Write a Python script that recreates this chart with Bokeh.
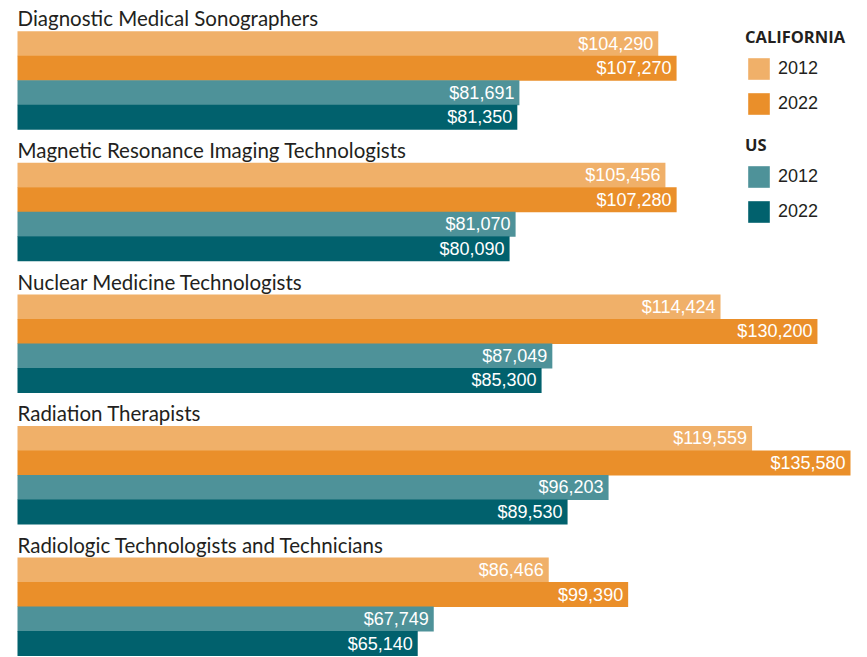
from bokeh.plotting import figure
from bokeh.models import ColumnDataSource, Range1d, Legend, LegendItem
from bokeh.core.properties import value
from bokeh.embed import file_html
from bokeh.resources import INLINE

categories = ["Diagnostic Medical Sonographers",
              "Magnetic Resonance Imaging Technologists",
              "Nuclear Medicine Technologists",
              "Radiation Therapists",
              "Radiologic Technologists and Technicians"]
ca_2012 = [104290, 105456, 114424, 119559, 86466]
ca_2022 = [107270, 107280, 130200, 135580, 99390]
us_2012 = [81691, 81070, 87049, 96203, 67749]
us_2022 = [81350, 80090, 85300, 89530, 65140]
series_labels = ["2012", "2022", "2012", "2022"]
colors = ["#F0B069", "#EA8F2A", "#4E9299", "#01616D"]

GROUP = 5.37  # group pitch in bar units
LABEL_FONT = "Liberation Sans"
TITLE_FONT = "Lato"

p = figure(width=867, height=657, output_backend="svg", toolbar_location=None,
           x_range=Range1d(-2767, 138346), y_range=Range1d(25.05, -1.765),
           x_axis_location=None, y_axis_location=None, min_border=0)
p.xgrid.visible = False
p.ygrid.visible = False
p.outline_line_color = None

renderers = []
for j, vals in enumerate([ca_2012, ca_2022, us_2012, us_2022]):
    ys = [i * GROUP + j for i in range(len(categories))]
    src = ColumnDataSource(dict(y=ys, v=vals, lab=["$" + f"{v:,}" for v in vals]))
    r = p.hbar(y="y", left=0, right="v", height=1.02, source=src,
               fill_color=colors[j], line_color=None)
    renderers.append(r)
    p.text(x="v", y="y", text="lab", source=src, text_align="right",
           text_baseline="middle", x_offset=-5, y_offset=0, text_color="white",
           text_font=value(LABEL_FONT), text_font_size="18px")

tsrc = ColumnDataSource(dict(y=[i * GROUP - 0.5 for i in range(len(categories))],
                             t=categories))
p.text(x=0, y="y", text="t", source=tsrc, text_align="left",
       text_baseline="middle", y_offset=-13, text_color="#231F20",
       text_font=value(TITLE_FONT), text_font_size="20.5px")

def make_legend(title, rs, labels, loc):
    leg = Legend(items=[LegendItem(label=l, renderers=[r]) for l, r in zip(labels, rs)],
                 title=title, location=loc)
    leg.title_text_font = "Open Sans"
    leg.title_text_font_style = "bold"
    leg.title_text_font_size = "16.5px"
    leg.title_text_color = "#231F20"
    leg.title_standoff = 7
    leg.label_text_font = LABEL_FONT
    leg.label_text_font_size = "18px"
    leg.label_text_color = "#231F20"
    leg.glyph_width = 27
    leg.glyph_height = 27
    leg.label_height = 27
    leg.spacing = 8
    leg.label_standoff = 6
    leg.padding = 0
    leg.margin = 0
    leg.border_line_color = None
    leg.background_fill_alpha = 0
    return leg

p.add_layout(make_legend("CALIFORNIA", renderers[:2], series_labels[:2], (745, 540)))
p.add_layout(make_legend("US", renderers[2:], series_labels[2:], (745, 432)))

open("out.html", "w").write(file_html(p, INLINE))
